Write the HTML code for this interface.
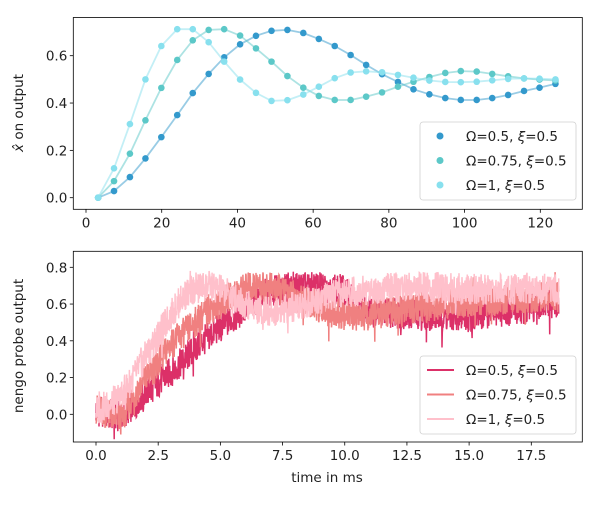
<!DOCTYPE html>
<html><head><meta charset="utf-8">
<style>
body{margin:0;background:#fff;}
svg text{font-family:"DejaVu Sans","Liberation Sans",sans-serif;font-size:13.5px;fill:#222;}
</style></head>
<body>
<svg id="fig" width="600" height="500" xmlns="http://www.w3.org/2000/svg">
<rect width="600" height="500" fill="#fff"/>
<g id="top"></g>
<g id="bot"></g>
</svg>
<script>
// ---- top chart data ----
const topX = [3.2,7.4,11.6,15.7,19.9,24.1,28.2,32.4,36.5,40.7,44.9,49.0,53.2,57.4,61.5,65.7,69.9,74.0,78.2,82.4,86.5,90.7,94.9,99.0,103.2,107.3,111.5,115.7,119.8,124.0];
const topS1 = [0,0.028,0.087,0.166,0.256,0.349,0.442,0.523,0.593,0.648,0.684,0.705,0.709,0.696,0.671,0.641,0.603,0.561,0.522,0.489,0.458,0.437,0.421,0.413,0.413,0.421,0.434,0.451,0.465,0.481];
const topS2 = [0,0.070,0.186,0.327,0.464,0.582,0.665,0.709,0.712,0.685,0.631,0.575,0.514,0.465,0.430,0.413,0.413,0.427,0.445,0.469,0.490,0.510,0.527,0.535,0.533,0.523,0.513,0.504,0.499,0.495];
const topS3 = [0,0.124,0.311,0.500,0.641,0.712,0.712,0.657,0.575,0.499,0.443,0.409,0.412,0.436,0.469,0.505,0.529,0.534,0.530,0.519,0.507,0.495,0.489,0.488,0.490,0.496,0.502,0.504,0.503,0.500];
const topLabels = ["Ω=0.5, |ξ|=0.5","Ω=0.75, |ξ|=0.5","Ω=1, |ξ|=0.5"];
const topXTicks = [0,20,40,60,80,100,120];
const topYTicks = [0.0,0.2,0.4,0.6];
// ---- bottom chart data (mean levels of noisy probe output) ----
const botT1 = [0,0.5,1,1.5,2,2.5,3,3.5,4,4.5,5,5.5,6,6.5,7,7.5,8,9,9.9,10.5,11,12,13,14,15,16,17,18.6];
const botV1 = [0.02,0.0,-0.01,0.05,0.12,0.17,0.23,0.29,0.36,0.42,0.48,0.52,0.58,0.63,0.67,0.68,0.69,0.69,0.68,0.6,0.57,0.55,0.54,0.53,0.53,0.55,0.57,0.6];
const botT2 = [0,0.5,1,1.5,2,2.5,3,3.5,4,4.5,5,5.5,6,6.5,7,7.5,8,8.5,9,9.5,10,11,12,13,14,15,16,17,18.6];
const botV2 = [0.03,0.0,-0.03,0.1,0.2,0.28,0.38,0.44,0.5,0.57,0.6,0.65,0.69,0.7,0.69,0.67,0.64,0.61,0.58,0.55,0.54,0.54,0.56,0.58,0.6,0.61,0.62,0.63,0.64];
const botT3 = [0,0.5,1,1.5,2,2.5,3,3.5,4,4.5,5,5.5,6,6.5,7,7.5,8,8.5,9,10,11,12,13,14,15,16,17,18.6];
const botV3 = [0.02,0.05,0.1,0.2,0.32,0.43,0.54,0.64,0.69,0.7,0.68,0.64,0.6,0.57,0.56,0.57,0.59,0.61,0.63,0.66,0.68,0.69,0.69,0.69,0.68,0.68,0.68,0.68];
const botLabels = ["Ω=0.5, |ξ|=0.5","Ω=0.75, |ξ|=0.5","Ω=1, |ξ|=0.5"];
const botXTicks = [0,2.5,5,7.5,10,12.5,15,17.5];
const botYTicks = [0.0,0.2,0.4,0.6,0.8];

const NS="http://www.w3.org/2000/svg";
function mk(tag,attrs,parent){const e=document.createElementNS(NS,tag);for(const k in attrs)e.setAttribute(k,attrs[k]);parent.appendChild(e);return e;}
function richText(t,s){ // parts between | are italic
  s.split('|').forEach((part,i)=>{const sp=mk('tspan',i%2?{'font-style':'italic'}:{},t);sp.textContent=part;});
}

const T={l:73.3,r:582.3,t:17.5,b:209.3};
const tx=v=>86+v*(540.3-86)/120;
const ty=v=>197.7-v*(197.7-55.7)/0.6;
const B={l:73.3,r:582.3,t:251.3,b:442};
const bx=v=>96+v*(531.3-96)/17.5;
const by=v=>414.3-v*(414.3-267.3)/0.8;

const gt=document.getElementById('top'), gb=document.getElementById('bot');

function axes(g,A,xt,yt,xs,ys,xfmt,yfmt){
  for(const v of xt){
    const x=xs(v);
    const tk=mk('line',{x1:x,x2:x,y1:A.b,y2:A.b+3.5,stroke:'#000','stroke-width':0.8},g);
    
    
    const t=mk('text',{x:x,y:A.b+18,'text-anchor':'middle'},g);t.textContent=xfmt(v);
    
    
  }
  for(const v of yt){
    const y=ys(v);
    const tk=mk('line',{x1:A.l-3.5,x2:A.l,y1:y,y2:y,stroke:'#000','stroke-width':0.8},g);
    
    
    const t=mk('text',{x:A.l-6,y:y+5,'text-anchor':'end'},g);t.textContent=yfmt(v);
    
    
  }
}
function frame(g,A){
  const r=mk('rect',{x:A.l,y:A.t,width:A.r-A.l,height:A.b-A.t,fill:'none',stroke:'#000','stroke-width':0.8},g);
  
  
}

// ---- top chart ----
axes(gt,T,topXTicks,topYTicks,tx,ty,v=>String(v),v=>v.toFixed(1));
const topCols=['#3399cc','#5cc8c8','#88e0ee'];
const topSeries=[topS1,topS2,topS3];
topSeries.forEach((s,i)=>{
  const g=mk('g',{},gt);
  
  
  const d=s.map((v,j)=>(j?'L':'M')+tx(topX[j]).toFixed(1)+','+ty(v).toFixed(1)).join('');
  const p=mk('path',{d:d,fill:'none',stroke:topCols[i],'stroke-width':1.8,'stroke-opacity':0.5},g);
  
  
  s.forEach((v,j)=>{
    const c=mk('circle',{cx:tx(topX[j]),cy:ty(v),r:3.3,fill:topCols[i]},g);
    
    
  });
});
frame(gt,T);
const yl1=mk('text',{transform:'translate(23,113) rotate(-90)','text-anchor':'middle'},gt);
richText(yl1,'|x̂| on output');



function legend(g,x,y,labels,cols,kind,name){
  const lg=mk('g',{},g);
  
  
  mk('rect',{x:x,y:y,width:156,height:78,rx:3,fill:'#fff','fill-opacity':0.8,stroke:'#d0d0d0','stroke-width':0.8},lg);
  labels.forEach((L,i)=>{
    const cy=y+14+i*24.5;
    const e=mk('g',{},lg);
    
    
    if(kind==='dot') mk('circle',{cx:x+20,cy:cy,r:3.5,fill:cols[i]},e);
    else mk('line',{x1:x+7,x2:x+34,y1:cy,y2:cy,stroke:cols[i],'stroke-width':2},e);
    const t=mk('text',{x:x+46,y:cy+5},e);richText(t,L);
  });
}
legend(gt,420,122,topLabels,topCols,'dot','top-legend');

// ---- bottom chart ----
axes(gb,B,botXTicks,botYTicks,bx,by,v=>v.toFixed(1),v=>v.toFixed(1));
function interp(T,V,t){
  if(t<=T[0])return V[0];
  for(let i=1;i<T.length;i++){if(t<=T[i]){const f=(t-T[i-1])/(T[i]-T[i-1]);return V[i-1]+f*(V[i]-V[i-1]);}}
  return V[V.length-1];
}
function jitter(k,seed){ // deterministic texture for the noisy trace
  const a=Math.sin(k*12.9898+seed*78.233)*43758.5453; const r=a-Math.floor(a);
  const b=Math.sin(k*4.1414+seed*3.7)*9631.13; const r2=b-Math.floor(b);
  return (r-0.5)*0.17+(r2>0.97?-(r2-0.97)*3.5:0)+(r2<0.02?(0.02-r2)*3:0);
}
const botCols=['#dc3068','#f08080','#ffc0cb'];
const botT=[botT1,botT2,botT3], botV=[botV1,botV2,botV3];
botT.forEach((T,i)=>{
  let d='';
  const tEnd=T[T.length-1];
  let k=0;
  for(let t=0;t<=tEnd+1e-9;t+=0.012,k++){
    const v=interp(T,botV[i],t)+jitter(k,i+1);
    d+=(k?'L':'M')+bx(t).toFixed(1)+','+by(v).toFixed(1);
  }
  const p=mk('path',{d:d,fill:'none',stroke:botCols[i],'stroke-width':1.5,'stroke-linejoin':'miter'},gb);
  
  
});
frame(gb,B);
legend(gb,420,356,botLabels,botCols,'line','bottom-legend');
const yl2=mk('text',{transform:'translate(23,346) rotate(-90)','text-anchor':'middle'},gb);
yl2.textContent='nengo probe output';


const xl2=mk('text',{x:327,y:482,'text-anchor':'middle'},gb);
xl2.textContent='time in ms';


</script>
</body></html>
